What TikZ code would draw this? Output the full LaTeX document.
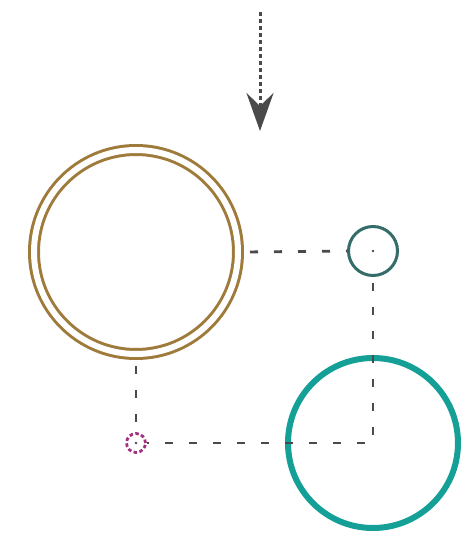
\documentclass[tikz,border=0pt]{standalone}
\usetikzlibrary{arrows.meta}
\definecolor{ringbrown}{HTML}{9E7B3B}
\definecolor{darkteal}{HTML}{336C68}
\definecolor{brightteal}{HTML}{14A096}
\definecolor{plum}{HTML}{A3307F}
\definecolor{dashgray}{HTML}{4A4A4A}
\tikzset{
  conn/.style={draw=dashgray, line width=2.8pt, dash pattern=on 8pt off 16pt, dash phase=-6pt},
  ring/.style={circle, inner sep=0pt, outer sep=0pt},
  centermark/.style={fill=dashgray, draw=none},
}
\begin{document}
\begin{tikzpicture}[x=1pt,y=-1pt]
\useasboundingbox (0,0) rectangle (468,533);
% big double ring
\node[ring, minimum size=204pt, draw=ringbrown, line width=3pt, double=white, double distance=6pt, outer sep=6pt] (big) at (136,252) {};
% small dark teal circle
\node[ring, minimum size=49pt, draw=darkteal, line width=3pt, outer sep=1.5pt] (small) at (373,251) {};
% large bright teal circle
\node[ring, minimum size=170pt, draw=brightteal, line width=6pt, outer sep=3pt] (teal) at (373,443) {};
% small dotted plum circle
\node[ring, minimum size=19pt, draw=plum, line width=2.8pt, dash pattern=on 3.5pt off 2.5pt, outer sep=1.4pt] (mag) at (136,443) {};
% centre marks
\fill[centermark] (small.center) circle (1.4pt);
\fill[centermark] (mag.center) circle (1.4pt);
% arrow
\coordinate (astart) at (260,12);
\coordinate (aend) at (260,131);
\draw[draw=dashgray, line width=3pt, dash pattern=on 4pt off 3pt, -{Stealth[length=38pt,width=27pt,inset=13pt,fill=dashgray]}] (astart) -- (aend);
% connectors
\draw[conn] (big.east) -- (small.west);
\draw[conn] (small.south) -- (teal.center) -- (mag.east);
\draw[conn] (big.south) -- (mag.north);
\end{tikzpicture}
\end{document}
